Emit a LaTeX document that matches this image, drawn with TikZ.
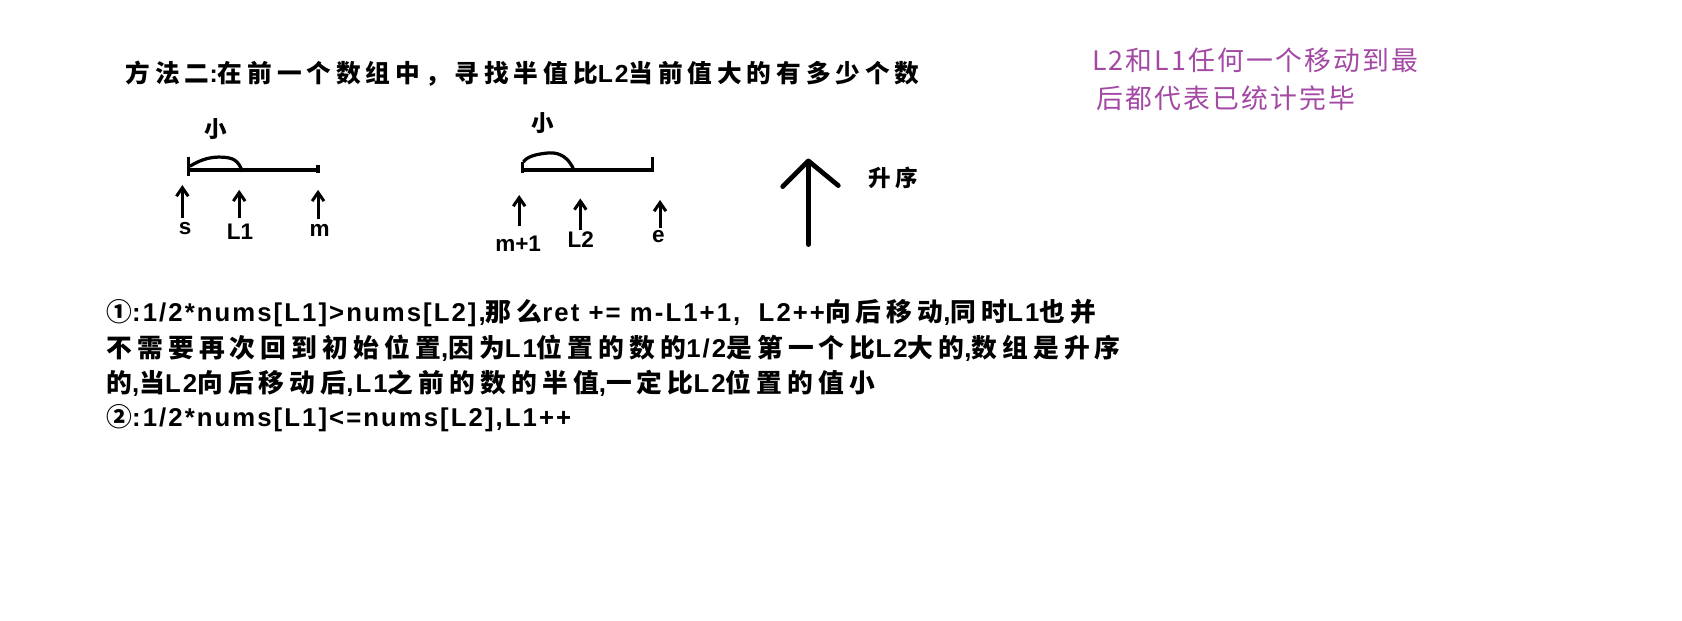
\documentclass[tikz,border=0pt]{standalone}
\usepackage{fontspec}
\setmainfont{Liberation Sans}
\newfontfamily\cjk{Noto Sans CJK SC}[LetterSpace=20]
\newfontfamily\cjknote{Noto Sans CJK SC}[LetterSpace=8]
\newfontfamily\latn{Liberation Sans}[LetterSpace=8]
\newcommand\lat[1]{{\latn\bfseries #1}}
\usetikzlibrary{arrows.meta, positioning}
\definecolor{paintpurple}{RGB}{163, 73, 164}

\begin{document}
\begin{tikzpicture}[x=1pt, y=-1pt,
    txt/.style={font=\cjk\bfseries\fontsize{24}{27}\selectfont, anchor=west, inner sep=0pt},
    headtxt/.style={font=\cjk\bfseries\fontsize{23}{26}\selectfont, anchor=west, inner sep=0pt},
    glyph/.style={font=\cjk\bfseries\fontsize{21}{24}\selectfont, inner sep=0pt},
    note/.style={font=\cjknote\fontsize{25}{28}\selectfont, text=paintpurple, anchor=west, inner sep=0pt},
    lbl/.style={font=\bfseries\fontsize{21}{24}\selectfont, inner sep=0pt},
    seg/.style={line width=3pt},
    ptr/.style={line width=2.8pt, -{Straight Barb[length=8pt, width=11pt]}}]
    \fill[white] (0,0) rectangle (1568,578);
    \useasboundingbox (0,0) rectangle (1568,578);
    % title and note
    \node[headtxt] (title) at (117,69) {方法二\lat{:}在前一个数组中，寻找半值比\lat{L2}当前值大的有多少个数};
    \node[note] (note1) at (1018,56) {L2和L1任何一个移动到最};
    \node[note] (note2) at (1022,92) {后都代表已统计完毕};
    % first half
    \node[glyph] (small1) at (201,120) {小};
    \draw[seg] (176,146) -- (176,164);
    \draw[seg] (176,158.5) -- (296.5,158.5);
    \draw[seg] (296.5,154) -- (296.5,161);
    \draw[seg] (177,155) .. controls (188,148) and (198,146) .. (207,146.5) .. controls (217,147) and (222,149) .. (226,160);
    \draw[ptr] (170,203) -- (170,172.5);
    \draw[ptr] (223,203) -- (223,177);
    \draw[ptr] (296.5,204) -- (296.5,177);
    \node[lbl] (s) at (172.5,212.6) {s};
    \node[lbl] (L1) at (223.7,216) {L1};
    \node[lbl] (m) at (298,214.4) {m};
    % second half
    \node[glyph] (small2) at (506,115) {小};
    \draw[seg] (487,150.7) -- (487,161.6);
    \draw[seg] (487,158.5) -- (608,158.5) -- (608,146.6);
    \draw[seg] (488,151) .. controls (491,146) and (500,143.5) .. (512,142.5) .. controls (524,142) and (531,149) .. (535,158.5);
    \draw[ptr] (484,211) -- (484,181.8);
    \draw[ptr] (541,214.4) -- (541,185);
    \draw[ptr] (615.3,212.9) -- (615.3,186.4);
    \node[lbl] (m1) at (483,226.8) {m+1};
    \node[lbl] (L2) at (541.3,223.7) {L2};
    \node[lbl] (e) at (613.7,220.6) {e};
    % ascending
    \draw[line width=4.4pt, line cap=round] (753.6,228) -- (753.6,151);
    \draw[line width=4.4pt, line cap=round, line join=round] (729.6,174) -- (753.6,150) -- (781.5,173);
    \node[glyph, anchor=west] (asc) at (809,166) {升序};
    % explanation
    \node[txt] (rule1) at (99,292) {①\lat{:1/2*nums[L1]>nums[L2],}那么\lat{ret += m-L1+1,\ \ L2++}向后移动\lat{,}同时\lat{L1}也并};
    \node[txt] (rule2) at (99,324.6) {不需要再次回到初始位置\lat{,}因为\lat{L1}位置的数的\lat{1/2}是第一个比\lat{L2}大的\lat{,}数组是升序};
    \node[txt] (rule3) at (99,357) {的\lat{,}当\lat{L2}向后移动后\lat{,L1}之前的数的半值\lat{,}一定比\lat{L2}位置的值小};
    \node[txt] (rule4) at (99,390) {②\lat{:1/2*nums[L1]<=nums[L2],L1++}};
\end{tikzpicture}
\end{document}
